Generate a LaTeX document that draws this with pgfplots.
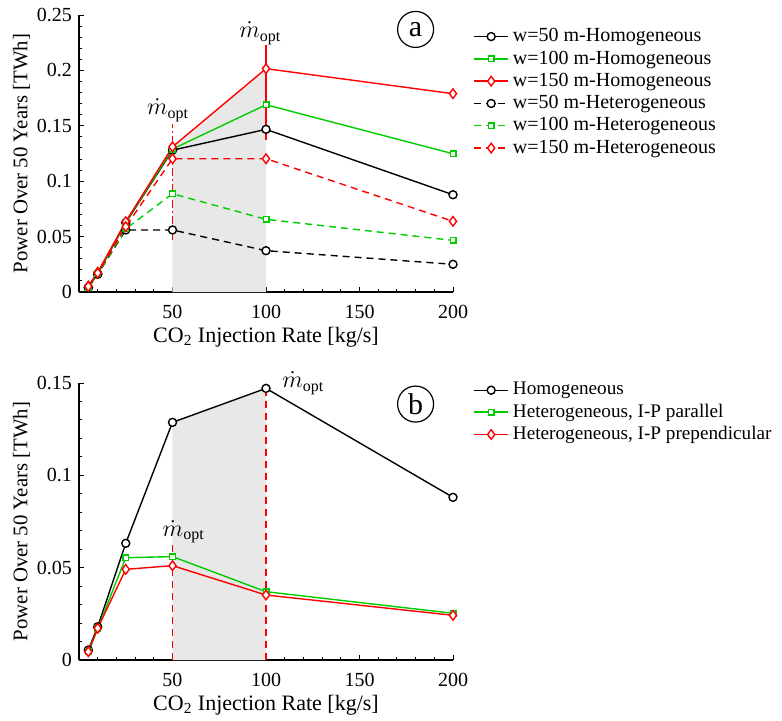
\documentclass[border=0pt]{standalone}
\usepackage{fontspec}
\setmainfont{Liberation Serif}
\usepackage{pgfplots}
\pgfplotsset{compat=1.18}
\definecolor{mgreen}{RGB}{0,205,0}
\definecolor{shade}{RGB}{232,232,232}
\tikzset{mopt/.style={font=\fontsize{12}{12}\selectfont}}

\pgfplotsset{
  myax/.style={
    scale only axis, width=187pt, height=138.5pt,
    axis lines=left, axis line style={-, line width=0.6pt},
    xmin=0, xmax=200, ymin=0,
    xtick={50,100,150,200},
    minor xtick={0,10,...,200},
    tick align=inside,
    major tick length=2.5pt, minor tick length=1.5pt,
    every tick/.style={black, line width=0.5pt},
    tick label style={font=\fontsize{10}{12}\selectfont},
    xticklabel style={yshift=-3pt},
    label style={font=\fontsize{11}{13}\selectfont},
    xlabel style={yshift=2.5pt},
    ylabel style={font=\fontsize{10.4}{12}\selectfont, yshift=-3.5pt},
    yticklabel style={/pgf/number format/fixed, /pgf/number format/precision=2},
    /pgf/number format/assume math mode=true,
    xlabel={CO\textsubscript{2} Injection Rate [kg/s]},
    ylabel={Power Over 50 Years [TWh]},
    legend style={draw=none, fill=none, at={(1,1)}, anchor=north west,
      xshift=7pt, font=\fontsize{10}{12}\selectfont, row sep=-1pt},
    legend cell align=left,
    clip=false,
  },
  ln/.style={line width=0.7pt},
  mc/.style={mark=*, mark size=2pt, mark options={solid, fill=white}},
  ms/.style={mark=square*, mark size=1.4pt, mark options={solid, fill=white}},
  md/.style={mark=diamond*, mark size=2.4pt, mark options={solid, fill=white}},
  dsh/.style={dash pattern=on 3.5pt off 2.5pt},
}

\begin{document}
\begin{tikzpicture}
% ---------------- (a) ----------------
\begin{axis}[myax, at={(0pt,0pt)}, anchor=south west,
    ymax=0.25, ytick={0,0.05,...,0.25}, minor ytick={0,0.01,...,0.25},
    legend style={yshift=-2.5pt}]
\addplot[fill=shade, draw=none, forget plot] coordinates {
  (50,0) (50,0.131) (100,0.2016) (100,0)} -- cycle;
\addplot[black, ln, mc] coordinates {
  (5,0.004) (10,0.0165) (25,0.0625) (50,0.128) (100,0.1468) (200,0.0878)};
\addplot[mgreen, ln, ms] coordinates {
  (5,0.0045) (10,0.017) (25,0.063) (50,0.129) (100,0.169) (200,0.1248)};
\addplot[red, ln, md] coordinates {
  (5,0.0054) (10,0.0178) (25,0.0635) (50,0.131) (100,0.2016) (200,0.179)};
\addplot[black, ln, dsh, mc] coordinates {
  (5,0.004) (10,0.016) (25,0.056) (50,0.056) (100,0.0373) (200,0.025)};
\addplot[mgreen, ln, dsh, ms] coordinates {
  (5,0.0045) (10,0.0165) (25,0.057) (50,0.0887) (100,0.0656) (200,0.0466)};
\addplot[red, ln, dsh, md] coordinates {
  (5,0.005) (10,0.017) (25,0.059) (50,0.1203) (100,0.1203) (200,0.0638)};
\addplot[red, ln, dash pattern=on 4pt off 1.5pt on 1pt off 1.5pt, forget plot] coordinates {(50,0.047) (50,0.152)};
\addplot[red, ln, forget plot] coordinates {(100,0.137) (100,0.223)};
\node[mopt] at (axis cs:47.6,0.164) {$\dot{m}_{\mathrm{opt}}$};
\node[mopt] at (axis cs:97,0.2337) {$\dot{m}_{\mathrm{opt}}$};
\node[draw, circle, line width=0.6pt, minimum size=18pt, inner sep=0pt,
  font=\fontsize{15}{15}\selectfont] at (axis cs:180,0.237) {a};
\legend{w=50 m-Homogeneous, w=100 m-Homogeneous, w=150 m-Homogeneous,
  w=50 m-Heterogeneous, w=100 m-Heterogeneous, w=150 m-Heterogeneous}
\end{axis}
% ---------------- (b) ----------------
\begin{axis}[myax, at={(0pt,-184pt)}, anchor=south west,
    ymax=0.15, ytick={0,0.05,0.1,0.15}, minor ytick={0,0.01,...,0.15},
    legend style={yshift=4.5pt, font=\fontsize{9.6}{12}\selectfont}]
\addplot[fill=shade, draw=none, forget plot] coordinates {
  (50,0) (50,0.1287) (100,0.1471) (100,0)} -- cycle;
\addplot[red, line width=0.9pt, dsh, forget plot] coordinates {(50,0) (50,0.064)};
\addplot[red, line width=0.9pt, dsh, forget plot] coordinates {(100,0) (100,0.148)};
\addplot[black, ln, mc] coordinates {
  (5,0.0054) (10,0.018) (25,0.0632) (50,0.1287) (100,0.1471) (200,0.0881)};
\addplot[mgreen, ln, ms] coordinates {
  (5,0.0045) (10,0.017) (25,0.0554) (50,0.056) (100,0.037) (200,0.0253)};
\addplot[red, ln, md] coordinates {
  (5,0.0045) (10,0.0172) (25,0.0491) (50,0.0511) (100,0.0352) (200,0.0242)};
\node[mopt] at (axis cs:56,0.0695) {$\dot{m}_{\mathrm{opt}}$};
\node[mopt] at (axis cs:120,0.150) {$\dot{m}_{\mathrm{opt}}$};
\node[draw, circle, line width=0.6pt, minimum size=18pt, inner sep=0pt,
  font=\fontsize{15}{15}\selectfont] at (axis cs:180,0.1386) {b};
\legend{Homogeneous, {Heterogeneous, I-P parallel}, {Heterogeneous, I-P prependicular}}
\end{axis}
\pgfresetboundingbox
\useasboundingbox (-39.5pt,-214pt) rectangle (351.5pt,146pt);
\end{tikzpicture}
\end{document}
